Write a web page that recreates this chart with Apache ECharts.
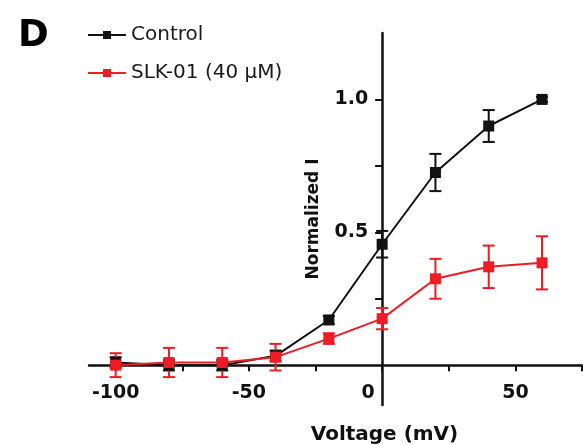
<!DOCTYPE html>
<html>
<head>
<meta charset="utf-8">
<script src="https://cdn.jsdelivr.net/npm/echarts@6/dist/echarts.min.js"></script>
<style>
html, body { margin: 0; padding: 0; background: #fff; }
#main { width: 583px; height: 445px; }
</style>
</head>
<body>
<div id="main"></div>
<script>
var voltage = [-100, -80, -60, -40, -20, 0, 20, 40, 60];
var control = [0.01, 0.0, 0.0, 0.035, 0.17, 0.455, 0.725, 0.9, 1.0];
var controlErr = [0.02, 0.02, 0.02, 0.02, 0.015, 0.05, 0.07, 0.06, 0.01];
var slk = [0.0, 0.01, 0.01, 0.03, 0.1, 0.175, 0.325, 0.37, 0.385];
var slkErr = [0.045, 0.055, 0.055, 0.05, 0.02, 0.04, 0.075, 0.08, 0.1];
var xTickLabels = [-100, -50, 0, 50];
var xTicks = [-100, -75, -50, -25, 0, 25, 50, 75];
var yTickLabels = [0.5, 1.0];
var yTicks = [0.25, 0.5, 0.75, 1.0];

var black = '#111111';
var red = '#ee1c24';
var font = 'DejaVu Sans';
var gridLeft = 89, gridTop = 33, gridBottom = 40;

function pairs(ys) {
    return voltage.map(function (v, i) { return [v, ys[i]]; });
}
function errData(ys, es) {
    return voltage.map(function (v, i) { return [v, ys[i] - es[i], ys[i] + es[i]]; });
}
function errRender(color) {
    return function (params, api) {
        var lo = api.coord([api.value(0), api.value(1)]);
        var hi = api.coord([api.value(0), api.value(2)]);
        var w = 6;
        var st = { stroke: color, lineWidth: 2 };
        return {
            type: 'group',
            children: [
                { type: 'line', shape: { x1: lo[0], y1: lo[1], x2: hi[0], y2: hi[1] }, style: st },
                { type: 'line', shape: { x1: lo[0] - w, y1: lo[1], x2: lo[0] + w, y2: lo[1] }, style: st },
                { type: 'line', shape: { x1: hi[0] - w, y1: hi[1], x2: hi[0] + w, y2: hi[1] }, style: st }
            ]
        };
    };
}

var myChart = echarts.init(document.getElementById('main'));
var option = {
    animation: false,
    title: {
        text: 'D',
        left: 13,
        top: 13,
        textStyle: { fontFamily: font, fontSize: 37, fontWeight: 'bold', color: '#000' }
    },
    legend: {
        data: ['Control', 'SLK-01 (40 µM)'],
        orient: 'vertical',
        left: 87,
        top: 25,
        padding: 0,
        itemWidth: 38,
        itemHeight: 10,
        itemGap: 18,
        textStyle: { fontFamily: font, fontSize: 20, color: '#1a1a1a' }
    },
    grid: { left: gridLeft, right: 1, top: gridTop, bottom: gridBottom, outerBoundsMode: 'none' },
    xAxis: {
        type: 'value',
        position: 'bottom',
        min: -110,
        max: 75,
        name: 'Voltage (mV)',
        nameLocation: 'middle',
        nameGap: 60,
        nameTextStyle: { fontFamily: font, fontSize: 20, fontWeight: 'bold', color: '#111', padding: [0, 0, 0, 98] },
        splitLine: { show: false },
        axisLine: { onZero: false, lineStyle: { color: black, width: 2.5 } },
        axisTick: { customValues: xTicks, length: 6, lineStyle: { color: black, width: 2 } },
        axisLabel: {
            customValues: xTickLabels,
            margin: 18,
            fontFamily: font, fontSize: 19, fontWeight: 'bold', color: '#111',
            formatter: function (v) { return v === 0 ? '{z|0}' : String(v); },
            rich: { z: { fontFamily: font, fontSize: 19, fontWeight: 'bold', color: '#111', padding: [0, 28, 0, 0] } }
        }
    },
    yAxis: {
        type: 'value',
        position: 'left',
        min: -0.15,
        max: 1.25,
        name: 'Normalized I',
        nameLocation: 'middle',
        nameGap: 60,
        nameTextStyle: { fontFamily: font, fontSize: 17, fontWeight: 'bold', color: '#111' },
        splitLine: { show: false },
        axisLine: { onZero: false, lineStyle: { color: black, width: 2.5 } },
        axisTick: { customValues: yTicks, length: 7, lineStyle: { color: black, width: 2 } },
        axisLabel: {
            customValues: yTickLabels,
            margin: 14,
            fontFamily: font, fontSize: 19, fontWeight: 'bold', color: '#111',
            formatter: function (v) { return v.toFixed(1); }
        }
    },
    series: [
        {
            name: 'Control',
            type: 'line',
            data: pairs(control),
            symbol: 'rect',
            symbolSize: 11,
            lineStyle: { color: black, width: 2 },
            itemStyle: { color: black }
        },
        {
            name: 'controlErr',
            type: 'custom',
            data: errData(control, controlErr),
            renderItem: errRender(black),
            encode: { x: 0, y: [1, 2] }
        },
        {
            name: 'SLK-01 (40 µM)',
            type: 'line',
            data: pairs(slk),
            symbol: 'rect',
            symbolSize: 11,
            lineStyle: { color: red, width: 2 },
            itemStyle: { color: red }
        },
        {
            name: 'slkErr',
            type: 'custom',
            data: errData(slk, slkErr),
            renderItem: errRender(red),
            encode: { x: 0, y: [1, 2] }
        }
    ]
};
myChart.setOption(option);

// move both axes so they cross at (0, 0)
var origin = myChart.convertToPixel({ gridIndex: 0 }, [0, 0]);
var gridBottomY = 445 - gridBottom;
myChart.setOption({
    xAxis: { offset: -(gridBottomY - origin[1]) },
    yAxis: { offset: -(origin[0] - gridLeft) }
});
</script>
</body>
</html>
